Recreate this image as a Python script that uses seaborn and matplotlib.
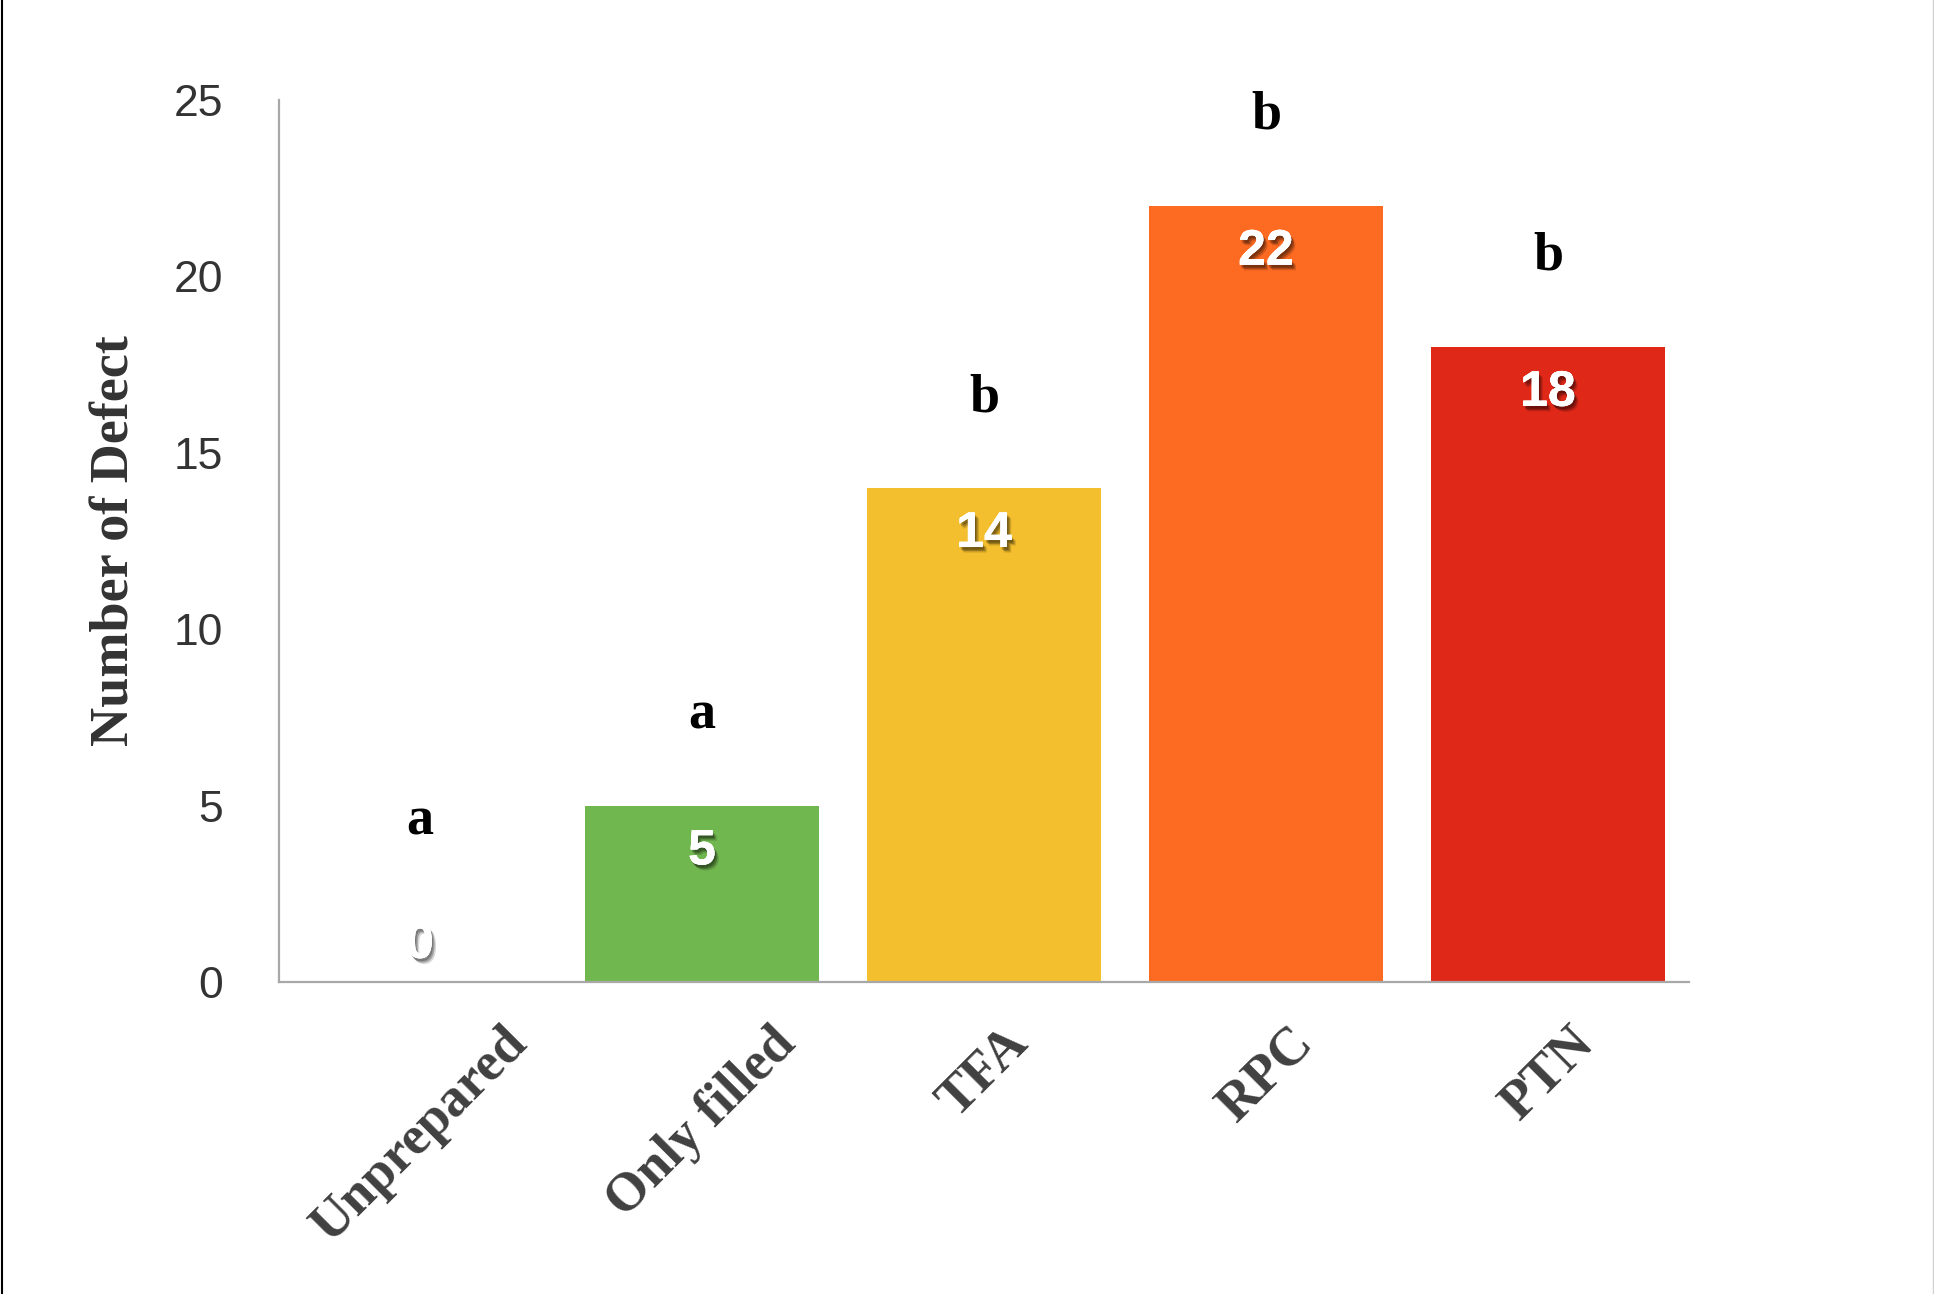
import matplotlib
matplotlib.use("Agg")
import matplotlib.pyplot as plt
import matplotlib.patheffects as pe
from matplotlib.lines import Line2D
import seaborn as sns
import pandas as pd

categories = ["Unprepared", "Only filled", "TFA", "RPC", "PTN"]
values = [0, 5, 14, 22, 18]
letters = ["a", "a", "b", "b", "b"]
colors = ["#FFFFFF", "#71B74F", "#F4BF2E", "#FD6A22", "#E02819"]
yticks = [0, 5, 10, 15, 20, 25]
ylabel = "Number of Defect"

df = pd.DataFrame({"category": categories, "value": values})

sns.set_theme(style="white")
plt.rcParams["font.family"] = ["Liberation Sans", "DejaVu Sans"]

fig = plt.figure(figsize=(19.34, 12.94), dpi=100)
ax = fig.add_axes([279 / 1934, 1 - 982 / 1294, 1410 / 1934, 882 / 1294])

sns.barplot(data=df, x="category", y="value", hue="category",
            palette=colors, width=0.833, legend=False, ax=ax,
            saturation=1, edgecolor="none")

ax.set_xlim(-0.5, len(categories) - 0.5)
ax.set_ylim(0, 25)
ax.set_yticks(yticks)
ax.set_yticklabels([str(t) for t in yticks], fontsize=32, color="#333333")
ax.tick_params(axis="y", length=0, pad=40)
ax.tick_params(axis="x", length=0, pad=26)

ax.set_xticks(range(len(categories)))
ax.set_xticklabels(categories, rotation=45, ha="center", va="top",
                   fontsize=39, fontweight="bold", color="#404040",
                   family=["Liberation Serif", "DejaVu Serif"])

ax.set_xlabel("")
ax.set_ylabel(ylabel, fontsize=39, fontweight="bold", color="#333333",
              family=["Liberation Serif", "DejaVu Serif"], va="center")
ax.yaxis.set_label_coords(-0.1163, 0.5)

for s in ["top", "right"]:
    ax.spines[s].set_visible(False)
for s in ["left", "bottom"]:
    ax.spines[s].set_color("#A8A8A8")
    ax.spines[s].set_linewidth(1.6)

shadow = [pe.withSimplePatchShadow(offset=(1, -2), shadow_rgbFace="black", alpha=0.25),
          pe.withSimplePatchShadow(offset=(2, -3), shadow_rgbFace="black", alpha=0.25),
          pe.withSimplePatchShadow(offset=(3, -4), shadow_rgbFace="black", alpha=0.15),
          pe.Normal()]
for i, v in enumerate(values):
    ypos = v - 1.3 if v > 2 else v + 1.05
    ax.text(i, ypos, str(v), ha="center", va="center", fontsize=36,
            fontweight="bold", color="white", path_effects=shadow)
    ax.text(i, max(v, 2) + 2.55, letters[i], ha="center", va="center",
            fontsize=39, fontweight="bold", color="black",
            family=["Liberation Serif", "DejaVu Serif"], clip_on=False)

fig.add_artist(Line2D([0.0008, 0.0008], [0, 1], transform=fig.transFigure,
                      color="black", lw=1.5))
fig.add_artist(Line2D([0.9994, 0.9994], [0, 1], transform=fig.transFigure,
                      color="#D0D0D0", lw=1.0))

fig.savefig("out.png", dpi=100, facecolor="white")
